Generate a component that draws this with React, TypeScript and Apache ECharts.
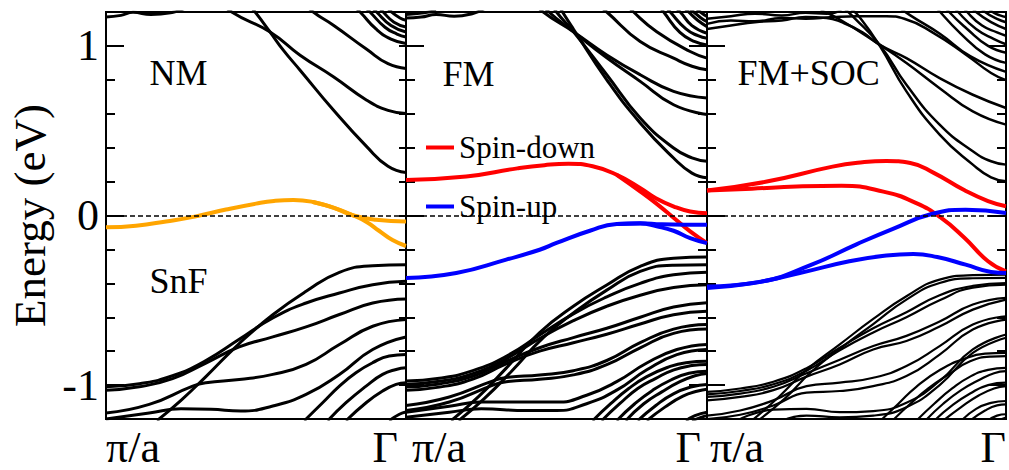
import React, { useEffect, useRef } from 'react';
import * as echarts from 'echarts';

const FONT = 'Liberation Serif, Times New Roman, serif';

const panelTitles = ['NM', 'FM', 'FM+SOC'];
const materialLabel = 'SnF';
const xTickLabels = ['π/a', 'Γ'];
const yMajorTicks = [-1, 0, 1];
const yMinorTicks = [-1, -0.8, -0.6, -0.4, -0.2, 0, 0.2, 0.4, 0.6, 0.8, 1];
const legendNames = ['Spin-down', 'Spin-up'];
const axisTitle = 'Energy (eV)';

type Band = number[][];

// ---------- NM ----------
const nmOrange: Band[] = [
  [[0, -0.07], [0.1, -0.06], [0.2, -0.035], [0.3, -0.005], [0.4, 0.035], [0.5, 0.07], [0.56, 0.086], [0.625, 0.092], [0.69, 0.08], [0.76, 0.045], [0.825, 0.0], [0.9, -0.025], [1, -0.035]],
  [[0.69, 0.08], [0.76, 0.045], [0.825, 0.0], [0.87, -0.04], [0.91, -0.09], [0.955, -0.145], [1, -0.18]],
];
const nmConduction: Band[] = [
  [[0, 1.17], [0.05, 1.18], [0.09, 1.198], [0.15, 1.185], [0.224, 1.198], [0.26, 1.22]],
  [[0.46, 1.28], [0.497, 1.2], [0.547, 1.082], [0.591, 0.975], [0.647, 0.857], [0.758, 0.622], [0.869, 0.406], [0.94, 0.29], [1, 0.253]],
  [[0.38, 1.27], [0.419, 1.2], [0.547, 1.082], [0.647, 0.945], [0.758, 0.818], [0.869, 0.68], [0.94, 0.62], [1, 0.602]],
  [[0.65, 1.27], [0.691, 1.2], [0.758, 1.122], [0.869, 0.98], [0.94, 0.895], [1, 0.867]],
  [[0.8, 1.28], [0.847, 1.2], [0.9, 1.1], [0.95, 1.04], [1, 1.014]],
  [[0.84, 1.27], [0.88, 1.2], [0.93, 1.11], [0.97, 1.07], [1, 1.053]],
  [[0.87, 1.26], [0.902, 1.2], [0.95, 1.12], [1, 1.082]],
  [[0.9, 1.25], [0.924, 1.2], [0.96, 1.14], [1, 1.112]],
  [[0.93, 1.24], [0.952, 1.2], [0.98, 1.165], [1, 1.151]],
];
const nmValence: Band[] = [
  [[0, -1.01], [0.111, -0.992], [0.222, -0.945], [0.333, -0.855], [0.444, -0.73], [0.556, -0.604], [0.667, -0.516], [0.778, -0.457], [0.889, -0.408], [1, -0.388]],
  [[0, -1.03], [0.111, -1.01], [0.222, -0.962], [0.333, -0.87], [0.444, -0.775], [0.556, -0.716], [0.667, -0.657], [0.778, -0.584], [0.889, -0.516], [1, -0.492]],
  [[0.17, -1.21], [0.25, -1.09], [0.333, -0.95], [0.444, -0.755], [0.556, -0.585], [0.667, -0.447], [0.778, -0.335], [0.889, -0.296], [1, -0.29]],
  [[0, -1.165], [0.144, -1.114], [0.289, -1.006], [0.333, -0.986], [0.444, -0.967], [0.556, -0.937], [0.667, -0.878], [0.778, -0.761], [0.889, -0.653], [1, -0.614]],
  [[0, -1.2], [0.144, -1.165], [0.25, -1.14], [0.35, -1.143], [0.45, -1.153], [0.556, -1.123], [0.667, -1.055], [0.778, -0.937], [0.889, -0.79], [1, -0.716]],
  [[0.661, -1.21], [0.722, -1.104], [0.778, -1.006], [0.833, -0.927], [0.889, -0.868], [0.944, -0.829], [1, -0.82]],
  [[0.739, -1.21], [0.8, -1.104], [0.867, -1.006], [0.922, -0.937], [0.967, -0.908], [1, -0.898]],
  [[0.8, -1.21], [0.867, -1.104], [0.922, -1.035], [0.967, -0.996], [1, -0.986]],
  [[0.944, -1.21], [0.978, -1.172], [1, -1.159]],
];

// ---------- FM ----------
const fmSpinDown: Band[] = [
  [[0, 0.21], [0.2, 0.23], [0.37, 0.278], [0.46, 0.297], [0.54, 0.305], [0.62, 0.29], [0.7, 0.24], [0.78, 0.16], [0.83, 0.102], [0.89, 0.053], [0.944, 0.024], [1, 0.014]],
  [[0.7, 0.24], [0.78, 0.14], [0.83, 0.073], [0.89, -0.015], [0.944, -0.094], [1, -0.163]],
];
const fmSpinUp: Band[] = [
  [[0, -0.368], [0.167, -0.339], [0.333, -0.26], [0.444, -0.202], [0.5, -0.162], [0.611, -0.09], [0.7, -0.05], [0.778, -0.045], [0.85, -0.052], [1, -0.055]],
  [[0.7, -0.05], [0.778, -0.047], [0.833, -0.064], [0.889, -0.09], [0.944, -0.133], [1, -0.163]],
];
const fmConduction: Band[] = [
  [[0, 1.165], [0.05, 1.17], [0.1, 1.185], [0.16, 1.175], [0.22, 1.19], [0.26, 1.22]],
  [[0, 1.185], [0.06, 1.195], [0.1, 1.21]],
  [[0.42, 1.27], [0.456, 1.2], [0.556, 1.084], [0.667, 0.947], [0.778, 0.83], [0.889, 0.732], [1, 0.693]],
  [[0.44, 1.27], [0.475, 1.2], [0.556, 1.084], [0.667, 0.93], [0.778, 0.791], [0.889, 0.653], [1, 0.595]],
  [[0.48, 1.26], [0.5, 1.2], [0.556, 1.084], [0.667, 0.83], [0.778, 0.575], [0.889, 0.398], [0.95, 0.34], [1, 0.32]],
  [[0.5, 1.26], [0.52, 1.2], [0.556, 1.1], [0.667, 0.8], [0.778, 0.546], [0.889, 0.339], [0.95, 0.25], [1, 0.222]],
  [[0.62, 1.27], [0.667, 1.2], [0.778, 1.026], [0.889, 0.928], [0.95, 0.88], [1, 0.859]],
  [[0.72, 1.27], [0.756, 1.2], [0.833, 1.084], [0.944, 0.967], [1, 0.928]],
  [[0.83, 1.26], [0.856, 1.2], [0.91, 1.08], [0.96, 1.025], [1, 1.006]],
  [[0.85, 1.26], [0.878, 1.2], [0.93, 1.1], [0.97, 1.06], [1, 1.045]],
  [[0.88, 1.25], [0.911, 1.2], [0.95, 1.12], [1, 1.075]],
  [[0.91, 1.25], [0.939, 1.2], [0.97, 1.15], [1, 1.114]],
  [[0.93, 1.24], [0.956, 1.2], [0.98, 1.165], [1, 1.143]],
  [[0.96, 1.23], [0.978, 1.2], [1, 1.173]],
];
const fmValence: Band[] = [
  [[0.15, -1.21], [0.24, -1.07], [0.333, -0.9], [0.444, -0.69], [0.556, -0.535], [0.667, -0.41], [0.778, -0.3], [0.889, -0.252], [1, -0.245]],
  [[0.175, -1.21], [0.26, -1.08], [0.35, -0.92], [0.456, -0.72], [0.556, -0.575], [0.667, -0.44], [0.778, -0.33], [0.889, -0.293], [1, -0.29]],
  [[0, -0.976], [0.111, -0.96], [0.222, -0.915], [0.333, -0.83], [0.444, -0.705], [0.556, -0.58], [0.667, -0.48], [0.778, -0.4], [0.889, -0.35], [1, -0.335]],
  [[0, -0.995], [0.111, -0.978], [0.222, -0.932], [0.333, -0.845], [0.444, -0.725], [0.556, -0.62], [0.667, -0.535], [0.778, -0.47], [0.889, -0.425], [1, -0.408]],
  [[0, -1.01], [0.111, -0.993], [0.222, -0.948], [0.333, -0.86], [0.444, -0.78], [0.556, -0.72], [0.667, -0.665], [0.778, -0.6], [0.889, -0.54], [1, -0.515]],
  [[0, -1.03], [0.111, -1.012], [0.222, -0.965], [0.333, -0.875], [0.444, -0.8], [0.556, -0.75], [0.667, -0.7], [0.778, -0.64], [0.889, -0.585], [1, -0.565]],
  [[0, -1.12], [0.144, -1.07], [0.289, -0.975], [0.333, -0.955], [0.444, -0.94], [0.556, -0.915], [0.667, -0.855], [0.778, -0.75], [0.889, -0.67], [1, -0.643]],
  [[0, -1.15], [0.144, -1.1], [0.289, -1.0], [0.333, -0.98], [0.444, -0.965], [0.556, -0.94], [0.667, -0.88], [0.778, -0.78], [0.889, -0.695], [1, -0.67]],
  [[0, -1.16], [0.144, -1.125], [0.25, -1.1], [0.4, -1.1], [0.5, -1.1], [0.6, -1.06], [0.7, -0.98], [0.8, -0.87], [0.9, -0.79], [1, -0.76]],
  [[0, -1.19], [0.144, -1.16], [0.25, -1.14], [0.4, -1.15], [0.5, -1.15], [0.6, -1.11], [0.7, -1.03], [0.8, -0.91], [0.9, -0.82], [1, -0.79]],
  [[0.62, -1.21], [0.68, -1.11], [0.74, -1.02], [0.8, -0.95], [0.87, -0.895], [0.93, -0.868], [1, -0.86]],
  [[0.65, -1.21], [0.71, -1.11], [0.77, -1.02], [0.83, -0.96], [0.89, -0.91], [0.95, -0.885], [1, -0.878]],
  [[0.7, -1.21], [0.76, -1.11], [0.82, -1.03], [0.88, -0.97], [0.94, -0.93], [1, -0.918]],
  [[0.73, -1.21], [0.79, -1.11], [0.85, -1.04], [0.91, -0.98], [0.96, -0.945], [1, -0.931]],
  [[0.77, -1.21], [0.83, -1.12], [0.89, -1.05], [0.95, -1.01], [1, -0.996]],
  [[0.8, -1.21], [0.86, -1.13], [0.92, -1.065], [0.97, -1.035], [1, -1.025]],
  [[0.93, -1.21], [0.96, -1.18], [1, -1.16]],
  [[0.95, -1.21], [0.98, -1.19], [1, -1.18]],
];

// ---------- FM+SOC ----------
const socSpinDown: Band[] = [
  [[0, 0.147], [0.2, 0.2], [0.42, 0.288], [0.52, 0.314], [0.6, 0.322], [0.68, 0.31], [0.76, 0.25], [0.86, 0.15], [0.94, 0.085], [1, 0.055]],
  [[0, 0.147], [0.15, 0.158], [0.3, 0.171], [0.45, 0.176], [0.59, 0.141], [0.7, 0.073], [0.78, -0.01], [0.86, -0.13], [0.94, -0.27], [1, -0.33]],
];
const socSpinUp: Band[] = [
  [[0, -0.418], [0.18, -0.39], [0.35, -0.29], [0.5, -0.17], [0.62, -0.08], [0.754, 0.01], [0.865, 0.034], [1, 0.015]],
  [[0, -0.427], [0.15, -0.4], [0.31, -0.339], [0.476, -0.27], [0.6, -0.236], [0.69, -0.227], [0.77, -0.245], [0.865, -0.29], [0.95, -0.333], [1, -0.339]],
];
const socConduction: Band[] = [
  [[0, 1.16], [0.08, 1.175], [0.16, 1.19], [0.25, 1.18], [0.33, 1.195], [0.4, 1.19], [0.45, 1.21]],
  [[0, 1.13], [0.08, 1.15], [0.16, 1.145], [0.25, 1.165], [0.33, 1.16], [0.42, 1.17], [0.5, 1.175], [0.6, 1.175], [0.66, 1.16], [0.754, 1.08], [0.865, 0.95], [0.95, 0.84], [1, 0.798]],
  [[0, 1.1], [0.08, 1.12], [0.16, 1.14], [0.25, 1.15], [0.33, 1.17], [0.4, 1.165], [0.45, 1.14], [0.52, 1.08], [0.578, 1.006], [0.667, 0.928], [0.778, 0.81], [0.889, 0.712], [1, 0.634]],
  [[0.38, 1.21], [0.44, 1.16], [0.578, 1.006], [0.667, 0.899], [0.778, 0.751], [0.889, 0.614], [1, 0.536]],
  [[0.46, 1.22], [0.49, 1.17], [0.578, 1.006], [0.667, 0.771], [0.778, 0.536], [0.889, 0.379], [0.95, 0.32], [1, 0.3]],
  [[0.48, 1.22], [0.51, 1.17], [0.578, 1.0], [0.667, 0.732], [0.778, 0.477], [0.889, 0.3], [0.95, 0.225], [1, 0.202]],
  [[0.64, 1.23], [0.68, 1.18], [0.78, 1.07], [0.88, 0.94], [1, 0.847]],
  [[0.76, 1.25], [0.78, 1.2], [0.85, 1.07], [0.93, 0.95], [1, 0.9]],
  [[0.79, 1.25], [0.81, 1.2], [0.87, 1.1], [0.94, 1.0], [1, 0.96]],
  [[0.82, 1.25], [0.84, 1.2], [0.9, 1.1], [0.96, 1.04], [1, 1.01]],
  [[0.85, 1.25], [0.87, 1.2], [0.92, 1.12], [0.97, 1.08], [1, 1.06]],
  [[0.88, 1.24], [0.9, 1.2], [0.95, 1.14], [1, 1.1]],
  [[0.91, 1.24], [0.93, 1.2], [0.97, 1.16], [1, 1.14]],
  [[0.94, 1.23], [0.955, 1.2], [0.98, 1.18], [1, 1.17]],
];
const socValence: Band[] = [
  [[0.15, -1.21], [0.24, -1.07], [0.333, -0.91], [0.444, -0.76], [0.556, -0.61], [0.667, -0.476], [0.778, -0.378], [0.889, -0.352], [1, -0.349]],
  [[0.17, -1.21], [0.26, -1.08], [0.35, -0.92], [0.456, -0.77], [0.556, -0.64], [0.667, -0.496], [0.778, -0.398], [0.889, -0.37], [1, -0.368]],
  [[0, -1.04], [0.111, -1.02], [0.222, -0.98], [0.333, -0.9], [0.444, -0.78], [0.556, -0.665], [0.667, -0.57], [0.778, -0.47], [0.889, -0.415], [1, -0.398]],
  [[0, -1.055], [0.111, -1.035], [0.222, -0.995], [0.333, -0.915], [0.444, -0.795], [0.556, -0.69], [0.667, -0.6], [0.778, -0.5], [0.889, -0.425], [1, -0.408]],
  [[0, -1.07], [0.111, -1.05], [0.222, -1.01], [0.333, -0.93], [0.444, -0.85], [0.556, -0.77], [0.667, -0.71], [0.778, -0.625], [0.889, -0.525], [1, -0.486]],
  [[0, -1.09], [0.111, -1.07], [0.222, -1.03], [0.333, -0.95], [0.444, -0.878], [0.556, -0.79], [0.667, -0.74], [0.778, -0.655], [0.889, -0.555], [1, -0.496]],
  [[0, -1.18], [0.111, -1.15], [0.222, -1.09], [0.333, -1.006], [0.444, -0.986], [0.556, -0.957], [0.667, -0.888], [0.778, -0.77], [0.889, -0.643], [1, -0.594]],
  [[0, -1.2], [0.111, -1.175], [0.222, -1.12], [0.333, -1.045], [0.444, -1.035], [0.556, -1.006], [0.667, -0.947], [0.778, -0.82], [0.889, -0.672], [1, -0.614]],
  [[0.1, -1.21], [0.222, -1.145], [0.333, -1.14], [0.444, -1.16], [0.556, -1.153], [0.667, -1.104], [0.778, -0.976], [0.889, -0.79], [1, -0.702]],
  [[0.25, -1.21], [0.333, -1.18], [0.444, -1.19], [0.556, -1.18], [0.667, -1.13], [0.778, -1.0], [0.889, -0.81], [1, -0.721]],
  [[0.58, -1.21], [0.64, -1.11], [0.7, -1.01], [0.78, -0.91], [0.86, -0.845], [0.93, -0.815], [1, -0.81]],
  [[0.62, -1.21], [0.68, -1.11], [0.74, -1.02], [0.81, -0.935], [0.88, -0.86], [0.95, -0.832], [1, -0.829]],
  [[0.7, -1.21], [0.76, -1.11], [0.82, -1.02], [0.88, -0.95], [0.94, -0.91], [1, -0.898]],
  [[0.73, -1.21], [0.79, -1.11], [0.85, -1.03], [0.91, -0.97], [0.96, -0.93], [1, -0.918]],
  [[0.76, -1.21], [0.82, -1.12], [0.88, -1.05], [0.94, -1.0], [1, -0.986]],
  [[0.79, -1.21], [0.85, -1.13], [0.91, -1.06], [0.96, -1.02], [1, -1.006]],
  [[0.85, -1.21], [0.9, -1.14], [0.95, -1.105], [1, -1.094]],
  [[0.88, -1.21], [0.93, -1.15], [0.97, -1.12], [1, -1.114]],
  [[0.94, -1.21], [0.97, -1.18], [1, -1.172]],
  [[0.97, -1.21], [1, -1.192]],
];

const BLACK = '#000000';
const ORANGE = '#FFA500';
const RED = '#FF0000';
const BLUE = '#0000FF';

function makeSeries(bands: Band[], grid: number, color: string, width: number, name?: string, z = 2): any[] {
  return bands.map((b) => ({
    type: 'line',
    name,
    xAxisIndex: grid,
    yAxisIndex: grid * 4,
    data: b,
    symbol: 'none',
    showSymbol: false,
    smooth: 0.5,
    smoothConstraint: false,
    clip: true,
    silent: true,
    z,
    lineStyle: { color, width },
    itemStyle: { color },
    emphasis: { disabled: true },
  }));
}

function zeroLine(grid: number): any {
  return {
    type: 'line',
    xAxisIndex: grid,
    yAxisIndex: grid * 4,
    data: [],
    silent: true,
    z: 3,
    markLine: {
      silent: true,
      symbol: ['none', 'none'],
      label: { show: false },
      lineStyle: { color: BLACK, type: [5, 3], width: 1.5 },
      emphasis: { disabled: true },
      data: [{ yAxis: 0 }],
    },
  };
}

export default function App() {
  const ref = useRef<HTMLDivElement>(null);
  useEffect(() => {
    if (!ref.current) return;
    const chart = echarts.init(ref.current, undefined, { renderer: 'svg' });
    const gridDefs = [
      { left: 106, width: 300 },
      { left: 406, width: 301 },
      { left: 707, width: 300 },
    ];
    const xPads = [
      [0, 8, 0, 0],
      [0, 6, 0, 6],
      [0, 0, 0, 3],
    ];
    const grids = gridDefs.map((g) => ({
      left: g.left,
      width: g.width,
      top: 12,
      height: 407,
      show: true,
      borderColor: BLACK,
      borderWidth: 2,
      backgroundColor: 'transparent',
    }));
    const xAxes = gridDefs.map((_, i) => ({
      type: 'value',
      gridIndex: i,
      min: 0,
      max: 1,
      axisLine: { show: false },
      axisTick: { show: false },
      splitLine: { show: false },
      axisLabel: {
        customValues: [0, 1],
        formatter: (v: number) => (v === 0 ? xTickLabels[0] : xTickLabels[1]),
        fontSize: 44,
        lineHeight: 40,
        fontFamily: FONT,
        color: BLACK,
        margin: 8,
        alignMinLabel: 'left',
        alignMaxLabel: 'right',
        padding: xPads[i],
      },
    }));
    const yAxes: any[] = [];
    gridDefs.forEach((_, i) => {
      const base = {
        type: 'value',
        gridIndex: i,
        min: -1.2,
        max: 1.2,
        axisLine: { show: false },
        splitLine: { show: false },
      };
      yAxes.push({
        ...base,
        position: 'left',
        name: i === 0 ? axisTitle : '',
        nameLocation: 'middle',
        nameRotate: 90,
        nameGap: 54,
        nameTextStyle: { fontSize: 45, fontFamily: FONT, color: BLACK },
        axisTick: { show: true, inside: true, length: 18, customValues: yMajorTicks, lineStyle: { color: BLACK, width: 2 } },
        axisLabel: {
          show: i === 0,
          customValues: yMajorTicks,
          formatter: (v: number) => String(v),
          fontSize: 44,
          fontFamily: FONT,
          color: BLACK,
          margin: 7,
        },
      });
      yAxes.push({
        ...base,
        position: 'left',
        axisTick: { show: true, inside: true, length: 9, customValues: yMinorTicks, lineStyle: { color: BLACK, width: 2 } },
        axisLabel: { show: false },
      });
      yAxes.push({
        ...base,
        position: 'right',
        axisTick: { show: true, inside: true, length: i === 0 ? 7 : 18, customValues: yMajorTicks, lineStyle: { color: BLACK, width: 2 } },
        axisLabel: { show: false },
      });
      yAxes.push({
        ...base,
        position: 'right',
        axisTick: { show: true, inside: true, length: i === 0 ? 7 : 9, customValues: yMinorTicks, lineStyle: { color: BLACK, width: 2 } },
        axisLabel: { show: false },
      });
    });

    const series: any[] = [
      ...makeSeries(nmConduction, 0, BLACK, 3),
      ...makeSeries(nmValence, 0, BLACK, 3),
      zeroLine(0),
      ...makeSeries(nmOrange, 0, ORANGE, 4, undefined, 4),
      ...makeSeries(fmConduction, 1, BLACK, 3),
      ...makeSeries(fmValence, 1, BLACK, 3),
      zeroLine(1),
      ...makeSeries(fmSpinDown, 1, RED, 4, legendNames[0], 4),
      ...makeSeries(fmSpinUp, 1, BLUE, 4, legendNames[1], 4),
      ...makeSeries(socConduction, 2, BLACK, 2.5),
      ...makeSeries(socValence, 2, BLACK, 2.2),
      zeroLine(2),
      ...makeSeries(socSpinDown, 2, RED, 4, legendNames[0], 4),
      ...makeSeries(socSpinUp, 2, BLUE, 4, legendNames[1], 4),
    ];

    const titlePos = [
      { x: 149.5, y: 73 },
      { x: 442.5, y: 74 },
      { x: 737.5, y: 73 },
    ];
    const graphic: any[] = panelTitles.map((t, i) => ({
      type: 'text',
      x: titlePos[i].x,
      y: titlePos[i].y,
      silent: true,
      style: { text: t, fontSize: 36, fontFamily: FONT, fill: BLACK, align: 'left', verticalAlign: 'middle' },
    }));
    graphic.push({
      type: 'text',
      x: 149.5,
      y: 281,
      silent: true,
      style: { text: materialLabel, fontSize: 36, fontFamily: FONT, fill: BLACK, align: 'left', verticalAlign: 'middle' },
    });

    chart.setOption({
      animation: false,
      backgroundColor: '#ffffff',
      textStyle: { fontFamily: FONT },
      grid: grids,
      xAxis: xAxes,
      yAxis: yAxes,
      legend: {
        data: [
          { name: legendNames[0], icon: 'rect' },
          { name: legendNames[1], icon: 'rect' },
        ],
        orient: 'vertical',
        left: 426,
        top: 132,
        itemWidth: 28,
        itemHeight: 4,
        itemGap: 28,
        padding: 0,
        selectedMode: false,
        textStyle: { fontSize: 31, fontFamily: FONT, color: BLACK, lineHeight: 31 },
      },
      graphic,
      series,
    });
    return () => chart.dispose();
  }, []);
  return <div ref={ref} style={{ position: 'absolute', left: 0, top: 0, width: 1009, height: 470 }} />;
}
